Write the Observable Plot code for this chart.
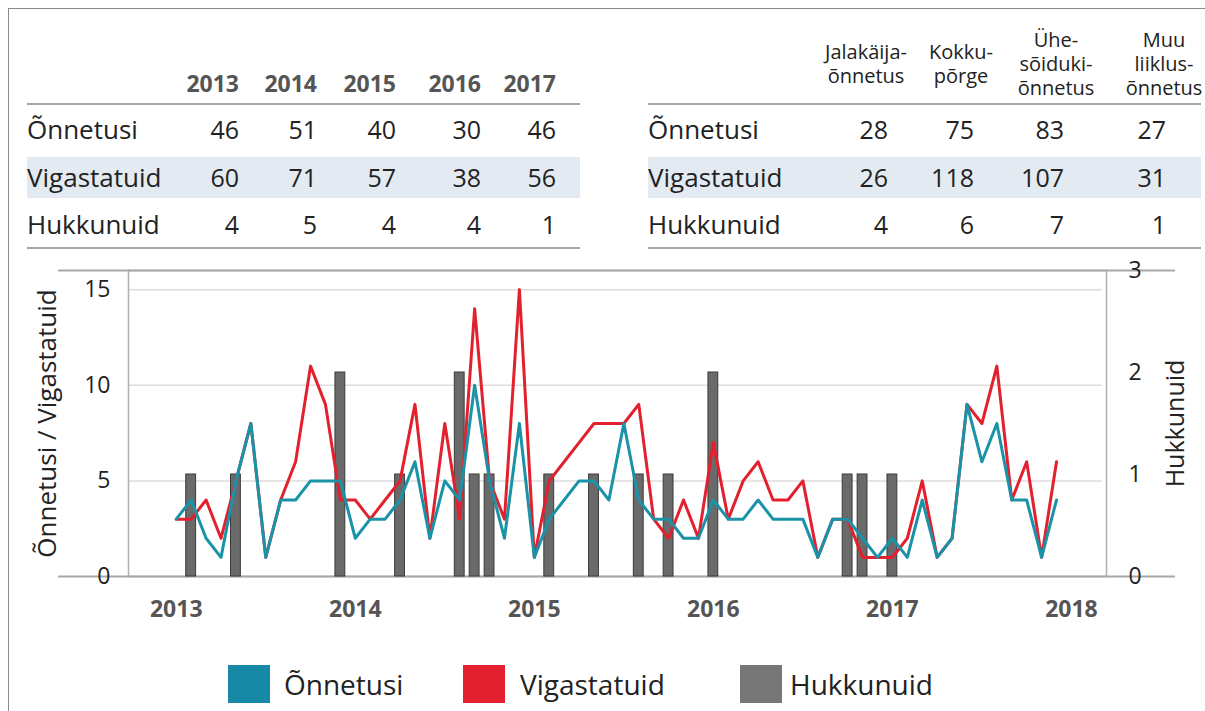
<!DOCTYPE html>
<html><head><meta charset="utf-8">
<script src="https://cdn.jsdelivr.net/npm/d3@7"></script>
<script src="https://cdn.jsdelivr.net/npm/@observablehq/plot@0.6"></script>
<style>
body{margin:0;background:#fff;font-family:"Open Sans","Noto Sans",sans-serif;color:#222}
#page{position:relative;width:1205px;height:711px;overflow:hidden;background:#fff}
.abs{position:absolute}
.t{position:absolute;white-space:nowrap;line-height:1}
.hdrYear{font-weight:bold;color:#555;font-size:23px}
.cell{font-size:25px;color:#222}
.lbl{font-size:26px;color:#222}
.hdrType{position:absolute;font-size:20px;color:#222;line-height:24px;text-align:center;white-space:pre}
.hline{position:absolute;height:0;border-top:2px solid #a6a6a6}
.band{position:absolute;background:#e4eaf1}
.lg{position:absolute;font-size:28px;color:#222;line-height:1;white-space:nowrap}
.sw{position:absolute;width:42px;height:38px}
#chart{position:absolute;left:0;top:260px}
</style>
</head><body>
<div id="page">
  <div class="abs" style="left:8px;top:8px;width:1197px;border-top:1.5px solid #8a8a8a"></div>
  <div class="abs" style="left:8px;top:8px;height:703px;border-left:1.5px solid #8a8a8a"></div>
  <div id="chart"></div>
</div>
<script>
// ---------- Table data ----------
const years = ["2013", "2014", "2015", "2016", "2017"];
const rowLabels = ["Õnnetusi", "Vigastatuid", "Hukkunuid"];
const yearAccidents = [46, 51, 40, 30, 46];
const yearInjured = [60, 71, 57, 38, 56];
const yearKilled = [4, 5, 4, 4, 1];

const typeHeaders = [["Jalakäija-", "õnnetus"], ["Kokku-", "põrge"], ["Ühe-", "sõiduki-", "õnnetus"], ["Muu", "liiklus-", "õnnetus"]];
const typeAccidents = [28, 75, 83, 27];
const typeInjured = [26, 118, 107, 31];
const typeKilled = [4, 6, 7, 1];

// ---------- Monthly chart data (Jan 2013 … Dec 2017) ----------
const startYear = 2013;
const accidents = [3,4,2,1,5,8,1,4,4,5,5,5, 2,3,3,4,6,2,5,4,10,5,2,8, 1,3,4,5,5,4,8,4,3,3,2,2, 4,3,3,4,3,3,3,1,3,3,2,1, 2,1,4,1,2,9,6,8,4,4,1,4];
const injured   = [3,3,4,2,5,8,1,4,6,11,9,4, 4,3,4,5,9,2,8,3,14,5,3,15, 1,5,6,7,8,8,8,9,3,2,4,2, 7,3,5,6,4,4,5,1,3,3,1,1, 1,2,5,1,2,9,8,11,4,6,1,6];
const killed    = [0,1,0,0,1,0,0,0,0,0,0,2, 0,0,0,1,0,0,0,2,1,1,0,0, 0,1,0,0,1,0,0,1,0,1,0,0, 2,0,0,0,0,0,0,0,0,1,1,0, 1,0,0,0,0,0,0,0,0,0,0,0];
const yearTicks = [2013, 2014, 2015, 2016, 2017, 2018];
const leftTicks = [0, 5, 10, 15];
const killedTicks = [0, 1, 2, 3];

const legendItems = ["Õnnetusi", "Vigastatuid", "Hukkunuid"];
const colors = {acc: "#1a93a8", inj: "#e3202d", kil: "#6a6a6a", accLegend: "#1789a6", kilLegend: "#777777"};

// ---------- Layout helpers ----------
const page = document.getElementById("page");
function place(txt, x, y, anchor, cls) {
  const d = document.createElement("div");
  d.className = "t " + cls;
  d.textContent = txt;
  d.style.left = x + "px";
  d.style.top = y + "px";
  const tx = anchor === "end" ? "-100%" : anchor === "middle" ? "-50%" : "0";
  d.style.transform = `translate(${tx},-50%)`;
  page.appendChild(d);
}
function hline(x1, x2, y) {
  const d = document.createElement("div");
  d.className = "hline";
  d.style.left = x1 + "px"; d.style.width = (x2 - x1) + "px"; d.style.top = y + "px";
  page.appendChild(d);
}
function band(x1, x2, y1, y2) {
  const d = document.createElement("div");
  d.className = "band";
  d.style.left = x1 + "px"; d.style.width = (x2 - x1) + "px";
  d.style.top = y1 + "px"; d.style.height = (y2 - y1) + "px";
  page.appendChild(d);
}

const rowY = [129, 177, 224];
// left table
band(27, 580, 157, 198);
hline(27, 580, 103);
hline(27, 580, 247);
const leftCols = [239, 317, 396, 481, 556];
years.forEach((y, j) => place(y, leftCols[j], 83, "end", "hdrYear"));
const leftRows = [yearAccidents, yearInjured, yearKilled];
rowLabels.forEach((r, k) => {
  place(r, 27, rowY[k], "start", "lbl");
  leftRows[k].forEach((v, j) => place(String(v), leftCols[j], rowY[k], "end", "cell"));
});
// right table
band(648, 1201, 157, 198);
hline(648, 1201, 103);
hline(648, 1201, 247);
const rightCols = [888, 974, 1064, 1166];
const hdrCenters = [866, 961, 1056, 1164];
typeHeaders.forEach((lines, j) => {
  const d = document.createElement("div");
  d.className = "hdrType";
  d.textContent = lines.join("\n");
  d.style.left = hdrCenters[j] + "px";
  d.style.top = "64px";
  d.style.transform = "translate(-50%,-50%)";
  page.appendChild(d);
});
const rightRows = [typeAccidents, typeInjured, typeKilled];
rowLabels.forEach((r, k) => {
  place(r, 648, rowY[k], "start", "lbl");
  rightRows[k].forEach((v, j) => place(String(v), rightCols[j], rowY[k], "end", "cell"));
});

// legend
const lgSw = [228, 463, 740];
const lgTx = [284, 520, 790];
const lgCol = [colors.accLegend, colors.inj, colors.kilLegend];
legendItems.forEach((l, k) => {
  const s = document.createElement("div");
  s.className = "sw";
  s.style.left = lgSw[k] + "px"; s.style.top = "665px"; s.style.background = lgCol[k];
  page.appendChild(s);
  const t = document.createElement("div");
  t.className = "lg";
  t.textContent = l;
  t.style.left = lgTx[k] + "px"; t.style.top = "684px"; t.style.transform = "translateY(-50%)";
  page.appendChild(t);
});

// ---------- Chart ----------
const K = 16 / 3; // right axis (Hukkunuid 0–3) onto left axis (0–16)
const months = accidents.map((_, i) => ({i, acc: accidents[i], inj: injured[i], kil: killed[i]}));

const chart = Plot.plot({
  width: 1205,
  height: 370,
  marginTop: 10,
  marginBottom: 54,
  marginLeft: 128,
  marginRight: 99,
  style: {fontFamily: '"Open Sans", "Noto Sans", sans-serif', fontSize: "22px", color: "#222", background: "transparent", overflow: "visible"},
  x: {type: "linear", domain: [-3.2, 62.35]},
  y: {domain: [0, 16]},
  marks: [
    Plot.gridY(leftTicks.filter(d => d > 0), {stroke: "#dedede", strokeOpacity: 1, strokeWidth: 1.5, insetRight: 4}),
    Plot.frame({stroke: "#b0b0b0", strokeWidth: 1.5}),
    Plot.ruleY([16, 0], {stroke: "#a8a8a8", strokeWidth: 2, insetLeft: -70, insetRight: -69}),
    Plot.rectY(months.filter(d => d.kil > 0), {x1: d => d.i - 0.33, x2: d => d.i + 0.33, y1: 0, y2: d => d.kil * K, fill: colors.kil, stroke: "#3a3a3a", strokeWidth: 1}),
    Plot.line(months, {x: "i", y: "inj", stroke: colors.inj, strokeWidth: 3}),
    Plot.line(months, {x: "i", y: "acc", stroke: colors.acc, strokeWidth: 3}),
    Plot.axisY(leftTicks, {anchor: "left", tickSize: 0, tickPadding: 18, fontSize: 23, tickFormat: d => String(d)}),
    Plot.axisY({anchor: "left", ticks: [], label: "Õnnetusi / Vigastatuid", labelAnchor: "center", labelArrow: "none", labelOffset: 91, fontSize: 26}),
    Plot.axisY(killedTicks.map(k => k * K), {anchor: "right", tickSize: 0, tickPadding: 22, fontSize: 23, tickFormat: d => String(Math.round(d / K))}),
    Plot.axisY({anchor: "right", ticks: [], label: "Hukkunuid", labelAnchor: "center", labelArrow: "none", labelOffset: 77, fontSize: 25}),
    Plot.axisX(yearTicks.map(y => (y - startYear) * 12), {tickSize: 0, tickPadding: 24, fontSize: 23, fontWeight: "bold", fill: "#555", tickFormat: d => String(startYear + d / 12), label: null})
  ]
});
document.getElementById("chart").appendChild(chart);
</script>
</body></html>
